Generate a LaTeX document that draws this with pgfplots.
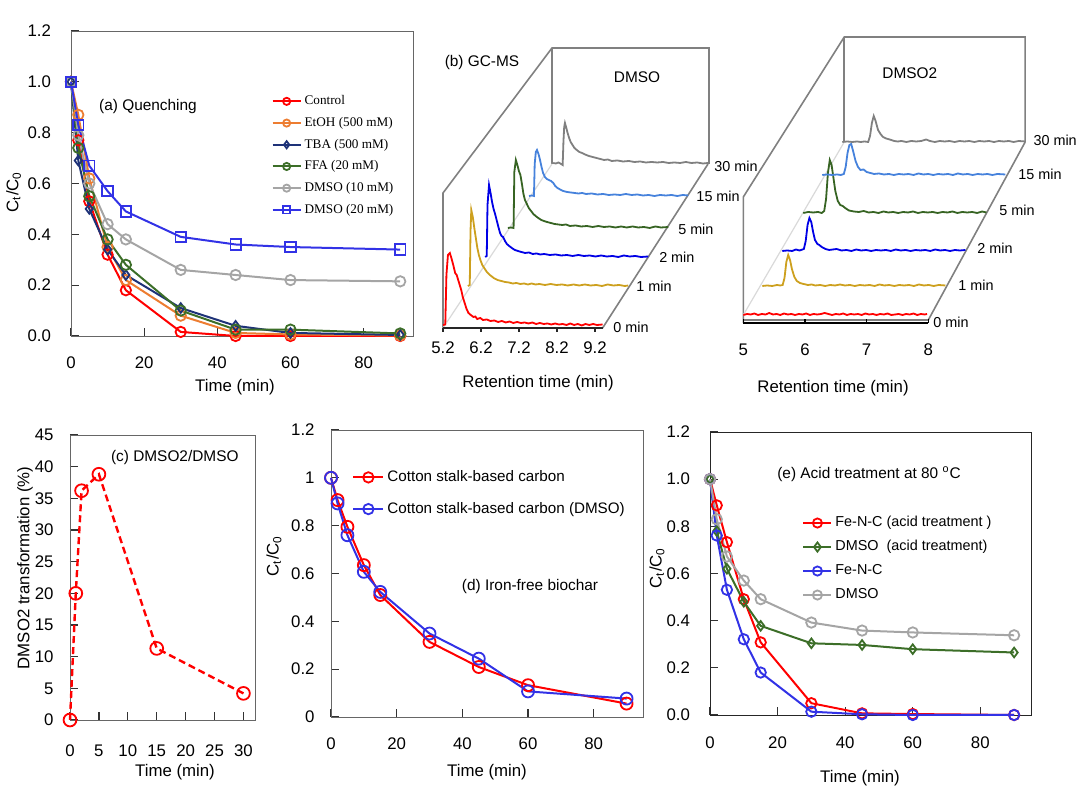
\documentclass[border=0pt]{standalone}
\usepackage{fontspec}
\setmainfont{Liberation Sans}
\newfontfamily\tnr{Liberation Serif}
\usepackage{pgfplots}
\usepackage{pgfplotstable}
\pgfplotsset{compat=1.18}

\definecolor{cRed}{RGB}{255,0,0}
\definecolor{cOra}{RGB}{237,125,49}
\definecolor{cNavy}{RGB}{30,50,120}
\definecolor{cGrn}{RGB}{60,110,40}
\definecolor{cGry}{RGB}{165,165,165}
\definecolor{cBlu}{RGB}{50,50,230}
\definecolor{cGold}{RGB}{205,160,30}
\definecolor{cGB}{RGB}{0,0,230}
\definecolor{cGG}{RGB}{55,100,35}
\definecolor{cLB}{RGB}{70,130,220}
\definecolor{cGG2}{RGB}{128,128,128}
\definecolor{cFrame}{RGB}{128,128,128}

\newcommand\fa{\fontsize{8.4}{10}\selectfont}
\newcommand\fb{\fontsize{7.7}{9}\selectfont}
\newcommand\fc{\fontsize{7.2}{8.5}\selectfont}

\pgfplotsset{
  panel/.style={scale only axis, anchor=south west, clip=false,
    tick pos=left, tick align=inside, axis line style={black!60},
    major tick length=4pt, tick style={black!80, line width=0.6pt},
    tick label style={font=\fa}, /pgf/number format/assume math mode=true,
    every axis plot/.append style={line width=1pt, mark options={solid, fill=white, line width=0.9pt}}},
}

% ---- GC-MS DMSO traces: retention time t (min), signal h ----
\pgfplotstableread{
t h
5.20 0
5.26 0.5
5.29 50
5.33 70
5.38 72
5.42 67
5.47 60
5.52 52
5.56 50
5.60 45
5.64 40
5.68 35
5.72 28
5.77 22
5.82 16
5.87 12
5.93 10
6.00 8
6.05 8.5
6.10 6
6.18 7
6.25 5
6.35 5.5
6.45 4
6.55 4.5
6.65 3
6.75 4
6.85 2.5
6.95 3.5
7.05 2
7.15 3
7.25 2
7.35 2.5
7.45 1.5
7.55 2.5
7.65 1
7.75 2
7.85 1
7.95 1.5
8.05 0.5
8.15 1.5
8.25 0.5
8.35 1
8.45 0
8.55 1.5
8.65 0
8.75 1
8.85 -0.5
8.95 1
9.05 0
9.15 1
9.25 0
9.40 0.5
}\dA
\pgfplotstableread{
t h
5.17 0
5.22 1
5.24 55
5.26 76
5.30 69
5.34 58
5.38 48
5.42 38
5.46 31
5.50 26
5.55 21
5.60 18
5.67 14
5.75 11
5.85 8
5.95 6
6.05 5
6.15 4
6.25 3.5
6.35 2.5
6.45 3
6.55 2
6.65 2.5
6.75 1.5
6.85 2.5
6.95 1.5
7.05 2
7.20 1
7.35 2
7.50 1
7.65 1.5
7.80 0.5
7.95 1.5
8.10 0.5
8.25 1.5
8.40 0.5
8.55 1
8.70 0
8.85 1.5
9.00 0.5
9.15 1
9.30 0
9.39 0.5
}\dB
\pgfplotstableread{
t h
5.10 0
5.14 1
5.16 52
5.20 72
5.24 64
5.28 55
5.32 48
5.36 43
5.40 37
5.44 31
5.49 24
5.53 21
5.57 20
5.62 16
5.67 13
5.73 11
5.80 9
5.88 7
5.96 6
6.05 5
6.15 4
6.25 4.5
6.35 3
6.45 3.5
6.55 2.5
6.65 3
6.80 2
6.95 2.5
7.10 1.5
7.25 2
7.40 1
7.55 2
7.70 1
7.85 1.5
8.00 0.5
8.15 1.5
8.30 0.5
8.45 1
8.60 0
8.75 1.5
8.90 0.5
9.05 1
9.20 0
9.39 0.5
}\dC
\pgfplotstableread{
t h
5.17 0
5.25 0.5
5.32 0
5.34 56
5.38 68
5.42 63
5.46 57
5.50 53
5.54 44
5.58 34
5.62 28
5.67 24
5.72 20
5.78 17
5.84 14
5.90 12
5.97 10
6.05 8
6.12 7
6.20 6
6.30 5
6.40 4
6.50 3.5
6.60 3
6.70 3.5
6.80 2
6.95 2.5
7.10 1.5
7.25 2
7.40 1
7.55 2
7.70 1
7.85 1.5
8.00 0.5
8.15 1.5
8.30 0.5
8.45 1.5
8.60 0.5
8.75 1
8.90 0
9.05 1.5
9.20 0.5
9.39 1
}\dD
\pgfplotstableread{
t h
5.20 0
5.28 0.5
5.33 0
5.35 32
5.38 44
5.41 46
5.45 42
5.49 36
5.53 29
5.57 23
5.62 19
5.67 17
5.72 16
5.78 15
5.84 13
5.89 10
5.95 8
6.02 6.5
6.10 5
6.20 4
6.30 3.5
6.40 3
6.50 2.5
6.60 3
6.70 2
6.85 2.5
7.00 1.5
7.15 2
7.30 1
7.45 1.5
7.60 1
7.75 2
7.90 1
8.05 1.5
8.20 0.5
8.35 1
8.50 0
8.65 1
8.80 0.5
8.95 1
9.10 0
9.25 1
9.39 0.5
}\dE
\pgfplotstableread{
t h
5.31 1
5.38 0.5
5.45 1.5
5.52 0
5.56 -1
5.58 22
5.60 37
5.62 41
5.65 37
5.69 31
5.73 26
5.77 22
5.82 19
5.87 16
5.93 14
6.00 12
6.07 11
6.15 9.5
6.25 8
6.35 7
6.45 6
6.55 5
6.65 4
6.75 4.5
6.85 3
7.00 3.5
7.15 2.5
7.30 3
7.45 2
7.60 2.5
7.75 1.5
7.90 2
8.05 1.5
8.20 2
8.35 1
8.50 1.5
8.65 1
8.80 2
8.95 1
9.10 1.5
9.25 0.5
9.39 1
}\dF

% ---- GC-MS DMSO2 traces ----
\pgfplotstableread{
t h
5.00 0
5.06 1
5.12 0.5
5.18 1.5
5.24 0
5.30 1
5.36 0.5
5.42 2
5.48 0.5
5.54 1
5.60 0
5.66 1.5
5.72 0.5
5.78 1
5.84 0
5.90 1
5.96 0.5
6.02 1.5
6.08 0
6.14 1
6.20 0.5
6.26 1
6.32 2
6.38 1
6.44 0
6.50 1
6.56 0.5
6.62 1.5
6.68 0
6.74 1
6.80 0.5
6.86 1
6.92 0
6.98 1.5
7.04 0.5
7.10 1
7.16 0
7.22 1
7.28 0.5
7.34 1.5
7.40 0
7.46 0.5
7.52 1
7.58 0
7.64 1
7.70 0.5
7.76 1.5
7.82 0
7.88 1
7.94 0.5
7.98 1
}\sA
\pgfplotstableread{
t h
5.00 0
5.08 0.5
5.16 0
5.24 1
5.29 0.5
5.33 1
5.36 8
5.39 24
5.42 31
5.45 26
5.48 17
5.52 9
5.56 5
5.61 3
5.67 2
5.74 1
5.80 1.5
5.86 0.5
5.94 1
6.02 0
6.10 1
6.18 0.5
6.26 1.5
6.34 0.5
6.42 1
6.50 0
6.58 1
6.66 0.5
6.74 1
6.82 0
6.90 1.5
6.98 0.5
7.06 1
7.14 0
7.22 1
7.30 0.5
7.38 1
7.46 0
7.54 1.5
7.62 0.5
7.70 1
7.78 0
7.86 1
7.97 0.5
}\sB
\pgfplotstableread{
t h
5.00 0
5.08 0.5
5.16 0
5.22 1.5
5.28 0.5
5.35 2
5.38 10
5.41 26
5.44 33
5.47 29
5.50 19
5.53 11
5.57 7
5.60 6
5.64 4
5.70 2
5.76 1
5.82 1.5
5.88 2
5.96 0.5
6.04 1
6.12 0
6.20 1.5
6.28 0.5
6.36 1
6.44 0
6.52 1
6.60 0.5
6.68 1
6.76 0
6.84 1.5
6.92 0.5
7.00 1
7.08 0
7.16 1
7.24 0.5
7.32 1
7.40 0
7.48 1.5
7.56 0.5
7.64 1
7.72 0
7.80 1
7.88 0.5
7.97 1
}\sC
\pgfplotstableread{
t h
5.00 0
5.08 1
5.16 0.5
5.24 1
5.30 0
5.34 2
5.37 14
5.40 40
5.43 53
5.46 48
5.49 35
5.52 22
5.56 12
5.60 8
5.64 7
5.68 5
5.74 2.5
5.82 1.5
5.90 1
5.98 2
6.06 0.5
6.14 1
6.22 0
6.30 1.5
6.38 0.5
6.46 1
6.54 0
6.62 1
6.70 0.5
6.78 1.5
6.86 0
6.94 1
7.02 0.5
7.10 1
7.18 0
7.26 1
7.34 0.5
7.42 1.5
7.50 0
7.58 1
7.66 0.5
7.74 1
7.82 0
7.90 1.5
7.97 0.5
}\sD
\pgfplotstableread{
t h
5.00 0
5.08 0.5
5.16 0
5.24 0.5
5.30 0
5.35 1
5.38 8
5.41 22
5.44 30
5.47 31
5.50 24
5.54 14
5.58 8
5.62 5
5.67 5.5
5.72 3
5.78 2
5.84 1
5.92 1.5
6.00 0.5
6.08 1
6.16 0
6.24 1
6.32 0.5
6.40 1
6.48 0
6.56 1.5
6.64 0.5
6.72 1
6.80 0
6.88 1
6.96 0.5
7.04 1
7.12 0
7.20 1.5
7.28 0.5
7.36 1
7.44 0
7.52 1
7.60 0.5
7.68 1
7.76 0
7.84 1
7.97 0.5
}\sE
\pgfplotstableread{
t h
5.00 0
5.08 0.5
5.16 0
5.24 0.5
5.30 0
5.36 0.5
5.42 0
5.45 6
5.48 19
5.51 26
5.54 21
5.58 12
5.62 8
5.66 5
5.71 3.5
5.77 2.5
5.84 1
5.90 0.5
5.96 1
6.04 0
6.12 1
6.20 0.5
6.28 1
6.36 2.5
6.42 1
6.50 0
6.58 1
6.66 0.5
6.74 1
6.82 0
6.90 1
6.98 0.5
7.06 1
7.14 0
7.22 1
7.30 0.5
7.38 1
7.46 0
7.54 1
7.62 0.5
7.70 1
7.78 0
7.86 1
7.97 0.5
}\sF

\begin{document}
\begin{tikzpicture}
\path[use as bounding box] (0,0) rectangle (540pt,400.5pt);

% ================= (a) Quenching =================
\begin{axis}[panel, at={(35.5pt,232.5pt)}, width=171pt, height=152.5pt,
  xmin=0, xmax=93.5, ymin=0, ymax=1.2,
  xtick={0,20,40,60,80}, ytick={0,0.2,0.4,0.6,0.8,1.0,1.2},
  yticklabel style={/pgf/number format/fixed, /pgf/number format/fixed zerofill, /pgf/number format/precision=1, xshift=-6.5pt},
  xticklabel style={yshift=-7pt},
  legend cell align=left,
  legend style={at={(0.568,0.805)}, anchor=north west, draw=none, fill=none,
    font=\tnr\fontsize{6.6}{8}\selectfont, row sep=4.35pt,
    nodes={inner sep=0pt, inner xsep=1.5pt, text height=5pt, text depth=1.5pt}},
  legend image code/.code={\draw[mark repeat=2,mark phase=2] plot coordinates {(0pt,0pt)(7pt,0pt)(14pt,0pt)};},
  legend image post style={mark size=1.8pt},
]
\addplot[cRed, mark=o, mark size=2.6pt] coordinates {(0,1)(2,0.77)(5,0.53)(10,0.32)(15,0.18)(30,0.016)(45,0.0)(60,0.0)(90,0.0)};
\addlegendentry{Control}
\addplot[cOra, mark=o, mark size=2.6pt] coordinates {(0,1)(2,0.87)(5,0.62)(10,0.35)(15,0.22)(30,0.08)(45,0.012)(60,0.006)(90,0.002)};
\addlegendentry{EtOH (500 mM)}
\addplot[cNavy, mark=diamond, mark size=2.4pt] coordinates {(0,1)(2,0.69)(5,0.50)(10,0.34)(15,0.24)(30,0.11)(45,0.04)(60,0.012)(90,0.004)};
\addlegendentry{TBA (500 mM)}
\addplot[cGrn, mark=o, mark size=2.6pt] coordinates {(0,1)(2,0.74)(5,0.55)(10,0.38)(15,0.28)(30,0.10)(45,0.025)(60,0.025)(90,0.01)};
\addlegendentry{FFA (20 mM)}
\addplot[cGry, mark=o, mark size=2.6pt] coordinates {(0,1)(2,0.79)(5,0.60)(10,0.44)(15,0.38)(30,0.26)(45,0.24)(60,0.22)(90,0.215)};
\addlegendentry{DMSO (10 mM)}
\addplot[cBlu, mark=square, mark size=2.6pt] coordinates {(0,1)(2,0.83)(5,0.67)(10,0.57)(15,0.49)(30,0.39)(45,0.36)(60,0.35)(90,0.34)};
\addlegendentry{DMSO (20 mM)}
\end{axis}
\node[font=\fb] at (74pt,347pt) {(a) Quenching};
\node[font=\fa, rotate=90] at (6.8pt,304.5pt) {C\textsubscript{t}/C\textsubscript{0}};
\node[font=\fa] at (117.5pt,207pt) {Time (min)};

% ================= (b) GC-MS, DMSO =================
\begin{axis}[at={(221.5pt,236.5pt)}, anchor=south west, scale only axis,
  width=79.8pt, height=80pt, xmin=5.2, xmax=9.4, ymin=0, ymax=160,
  hide axis, clip=false]
\draw[cFrame, line width=0.8pt] (5.2,0) -- (5.2,135) -- (8.068,280) -- (12.2,280) -- (12.2,164);
\draw[cFrame, line width=0.8pt] (8.068,280) -- (8.068,164);
\draw[cFrame, line width=0.8pt] (9.4,0) -- (12.174,164);
\draw[black!15, line width=0.6pt] (5.2,0) -- (8.068,164);
\addplot[cRed, line width=0.9pt] table[x expr=\thisrow{t}, y expr=\thisrow{h}+3] {\dA};
\addplot[cGold, line width=0.9pt] table[x expr=\thisrow{t}+0.684, y expr=\thisrow{h}+42] {\dB};
\addplot[cGB, line width=0.9pt] table[x expr=\thisrow{t}+1.211, y expr=\thisrow{h}+71] {\dC};
\addplot[cGG, line width=0.9pt] table[x expr=\thisrow{t}+1.737, y expr=\thisrow{h}+100] {\dD};
\addplot[cLB, line width=0.9pt] table[x expr=\thisrow{t}+2.263, y expr=\thisrow{h}+132] {\dE};
\addplot[cGG2, line width=0.9pt] table[x expr=\thisrow{t}+2.789, y expr=\thisrow{h}+164] {\dF};
\draw[black!85, line width=1pt] (5.2,0) -- (9.4,0);
\draw[black!85, line width=0.6pt] (5.2,0) -- (5.2,-4);
\draw[black!85, line width=0.6pt] (6.2,0) -- (6.2,-4);
\draw[black!85, line width=0.6pt] (7.2,0) -- (7.2,-4);
\draw[black!85, line width=0.6pt] (8.2,0) -- (8.2,-4);
\draw[black!85, line width=0.6pt] (9.2,0) -- (9.2,-4);
\node[font=\fa] at (5.2,-20) {5.2};
\node[font=\fa] at (6.2,-20) {6.2};
\node[font=\fa] at (7.2,-20) {7.2};
\node[font=\fa] at (8.2,-20) {8.2};
\node[font=\fa] at (9.2,-20) {9.2};
\node[font=\fa] at (7.7,-55) {Retention time (min)};
\node[font=\fb] at (10.305,251) {DMSO};
\node[font=\fb] at (6.226,265) {(b) GC-MS};
\node[font=\fc, anchor=west, inner sep=0pt] at (9.674,1) {0 min};
\node[font=\fc, anchor=west, inner sep=0pt] at (10.28,42) {1 min};
\node[font=\fc, anchor=west, inner sep=0pt] at (10.88,71) {2 min};
\node[font=\fc, anchor=west, inner sep=0pt] at (11.38,99) {5 min};
\node[font=\fc, anchor=west, inner sep=0pt] at (11.86,132) {15 min};
\node[font=\fc, anchor=west, inner sep=0pt] at (12.33,162) {30 min};
\end{axis}

% ================= (b) GC-MS, DMSO2 =================
\begin{axis}[at={(371.65pt,239pt)}, anchor=south west, scale only axis,
  width=92.5pt, height=80pt, xmin=5, xmax=8, ymin=0, ymax=160,
  hide axis, clip=false]
\draw[cFrame, line width=0.8pt] (5,0) -- (5,126) -- (6.637,286) -- (9.571,286) -- (9.571,181);
\draw[cFrame, line width=0.8pt] (6.637,286) -- (6.637,181);
\draw[cFrame, line width=0.8pt] (8,3) -- (9.571,181);
\draw[black!15, line width=0.6pt] (5,8) -- (6.637,181);
\addplot[cRed, line width=0.9pt] table[x expr=\thisrow{t}, y expr=\thisrow{h}+8] {\sA};
\addplot[cGold, line width=0.9pt] table[x expr=\thisrow{t}+0.308, y expr=\thisrow{h}+37] {\sB};
\addplot[cGB, line width=0.9pt] table[x expr=\thisrow{t}+0.632, y expr=\thisrow{h}+72] {\sC};
\addplot[cGG, line width=0.9pt] table[x expr=\thisrow{t}+0.972, y expr=\thisrow{h}+110] {\sD};
\addplot[cLB, line width=0.9pt] table[x expr=\thisrow{t}+1.280, y expr=\thisrow{h}+148] {\sE};
\addplot[cGG2, line width=0.9pt] table[x expr=\thisrow{t}+1.605, y expr=\thisrow{h}+181] {\sF};
\draw[cFrame, line width=0.6pt] (5,3) -- (8,3);
\draw[black, line width=1.1pt] (5,0) -- (8,0);
\draw[black, line width=0.7pt] (5,0) -- (5,4);
\draw[black, line width=0.7pt] (6,0) -- (6,4);
\draw[black, line width=0.7pt] (7,0) -- (7,4);
\draw[black, line width=0.7pt] (8,0) -- (8,4);
\node[font=\fa] at (5,-27) {5};
\node[font=\fa] at (6,-27) {6};
\node[font=\fa] at (7,-27) {7};
\node[font=\fa] at (8,-27) {8};
\node[font=\fa] at (6.455,-65) {Retention time (min)};
\node[font=\fb] at (7.70,250) {DMSO2};
\node[font=\fc, anchor=west, inner sep=0pt] at (8.076,1) {0 min};
\node[font=\fc, anchor=west, inner sep=0pt] at (8.48,38) {1 min};
\node[font=\fc, anchor=west, inner sep=0pt] at (8.79,75) {2 min};
\node[font=\fc, anchor=west, inner sep=0pt] at (9.146,113) {5 min};
\node[font=\fc, anchor=west, inner sep=0pt] at (9.455,149) {15 min};
\node[font=\fc, anchor=west, inner sep=0pt] at (9.70,183) {30 min};
\end{axis}

% ================= (c) DMSO2/DMSO =================
\begin{axis}[panel, at={(35pt,40.5pt)}, width=92.5pt, height=142.5pt,
  xmin=0, xmax=32, ymin=0, ymax=45,
  xtick={0,5,10,15,20,25,30}, ytick={0,5,10,15,20,25,30,35,40,45},
  xticklabel style={yshift=-9pt}, yticklabel style={xshift=-4.7pt}]
\addplot[cRed, line width=1.2pt, dash pattern=on 3.5pt off 2pt, mark=o, mark size=3.2pt] coordinates {(0,0)(1,20)(2,36.2)(5,38.8)(15,11.3)(30,4.2)};
\end{axis}
\node[font=\fb, anchor=west] at (52pt,171.5pt) {(c) DMSO2/DMSO};
\node[font=\fa, rotate=90] at (12.5pt,116.5pt) {DMSO2 transformation (\%)};
\node[font=\fa] at (87.5pt,14.5pt) {Time (min)};

% ================= (d) Iron-free biochar =================
\begin{axis}[panel, at={(165.5pt,42pt)}, width=156pt, height=143.5pt,
  xmin=0, xmax=95, ymin=0, ymax=1.2,
  xtick={0,20,40,60,80}, ytick={0,0.2,0.4,0.6,0.8,1,1.2},
  yticklabel style={/pgf/number format/fixed, /pgf/number format/precision=1, xshift=-4.7pt},
  xticklabel style={yshift=-6.7pt},
  legend cell align=left,
  legend style={at={(0.048,0.878)}, anchor=north west, draw=none, fill=none,
    font=\fontsize{7.6}{9}\selectfont, row sep=7.85pt,
    nodes={inner sep=0pt, inner xsep=1.5pt, text height=6pt, text depth=2pt}},
  legend image code/.code={\draw[mark repeat=2,mark phase=2] plot coordinates {(0pt,0pt)(7.5pt,0pt)(15pt,0pt)};},
  legend image post style={mark size=2.6pt},
]
\addplot[cRed, mark=o, mark size=3pt] coordinates {(0,1)(2,0.907)(5,0.795)(10,0.635)(15,0.51)(30,0.314)(45,0.209)(60,0.133)(90,0.056)};
\addlegendentry{Cotton stalk-based carbon}
\addplot[cBlu, mark=o, mark size=3pt] coordinates {(0,1)(2,0.893)(5,0.76)(10,0.607)(15,0.523)(30,0.349)(45,0.244)(60,0.107)(90,0.077)};
\addlegendentry{Cotton stalk-based carbon (DMSO)}
\end{axis}
\node[font=\fb] at (265pt,107pt) {(d) Iron-free biochar};
\node[font=\fa, rotate=90] at (137pt,122.5pt) {C\textsubscript{t}/C\textsubscript{0}};
\node[font=\fa] at (243.5pt,14.5pt) {Time (min)};

% ================= (e) Acid treatment =================
\begin{axis}[panel, at={(355pt,43pt)}, width=160.5pt, height=141.5pt,
  axis line style={black!85},
  xmin=0, xmax=95, ymin=0, ymax=1.2,
  xtick={0,20,40,60,80}, ytick={0,0.2,0.4,0.6,0.8,1.0,1.2},
  yticklabel style={/pgf/number format/fixed, /pgf/number format/fixed zerofill, /pgf/number format/precision=1, xshift=-6.5pt},
  xticklabel style={yshift=-7.5pt},
  legend cell align=left,
  legend style={at={(0.268,0.72)}, anchor=north west, draw=none, fill=none,
    font=\fontsize{7.2}{9}\selectfont, row sep=4.6pt,
    nodes={inner sep=0pt, inner xsep=1.5pt, text height=5.6pt, text depth=1.8pt}},
  legend image code/.code={\draw[mark repeat=2,mark phase=2] plot coordinates {(0pt,0pt)(7pt,0pt)(14pt,0pt)};},
  legend image post style={mark size=2.3pt},
]
\addplot[cRed, mark=o, mark size=2.6pt] coordinates {(0,1)(2,0.889)(5,0.733)(10,0.491)(15,0.308)(30,0.05)(45,0.007)(60,0.004)(90,0.0)};
\addlegendentry{Fe-N-C (acid treatment )}
\addplot[cGrn, mark=diamond, mark size=2.4pt] coordinates {(0,1)(2,0.78)(5,0.62)(10,0.48)(15,0.378)(30,0.304)(45,0.297)(60,0.279)(90,0.265)};
\addlegendentry{DMSO\ \ (acid treatment)}
\addplot[cBlu, mark=o, mark size=2.6pt] coordinates {(0,1)(2,0.761)(5,0.531)(10,0.321)(15,0.18)(30,0.014)(45,0.003)(60,0)(90,0)};
\addlegendentry{Fe-N-C}
\addplot[cGry, mark=o, mark size=2.6pt] coordinates {(0,1)(2,0.83)(5,0.672)(10,0.57)(15,0.491)(30,0.392)(45,0.358)(60,0.35)(90,0.338)};
\addlegendentry{DMSO}
\end{axis}
\node[font=\fb] at (434.5pt,163.5pt) {(e) Acid treatment at 80 \textsuperscript{o}C};
\node[font=\fa, rotate=90] at (328.5pt,116.5pt) {C\textsubscript{t}/C\textsubscript{0}};
\node[font=\fa] at (430pt,11.5pt) {Time (min)};
\end{tikzpicture}
\end{document}
